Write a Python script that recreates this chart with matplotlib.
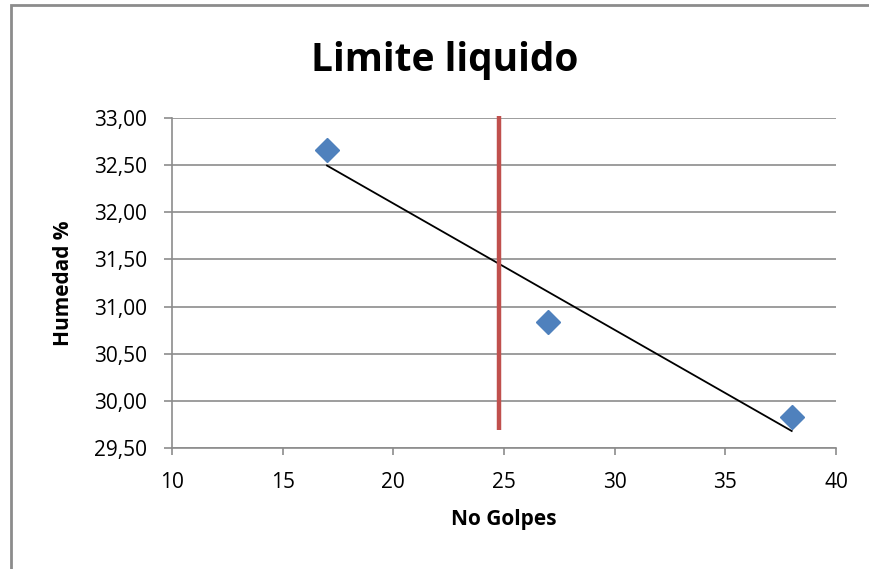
import numpy as np
import matplotlib.pyplot as plt
from matplotlib.patches import Rectangle
from matplotlib.ticker import FuncFormatter

plt.rcParams['font.family'] = ['Open Sans', 'DejaVu Sans']

golpes = [17, 27, 38]
humedad = [32.66, 30.84, 29.83]
limite_x = 24.78
limite_y = [29.69, 33.02]

x_ticks = [10, 15, 20, 25, 30, 35, 40]
y_ticks = [29.5, 30.0, 30.5, 31.0, 31.5, 32.0, 32.5, 33.0]

fig = plt.figure(figsize=(8.69, 5.69), dpi=100)
ax = fig.add_axes([0.198, 0.2127, 0.764, 0.58])

# chart border (only left and top edges fall inside the image)
fig.patches.append(Rectangle((10.5 / 869, -0.05), 1.05, 1.0413, transform=fig.transFigure,
                             fill=False, edgecolor='#8c8c8c', linewidth=2))

for y in y_ticks:
    ax.axhline(y, color='#8c8c8c', linewidth=1.2, zorder=0)

# trendline (linear fit)
m, b = np.polyfit(golpes, humedad, 1)
tx = np.array([min(golpes), max(golpes)])
ax.plot(tx, m * tx + b, color='black', linewidth=1.3, zorder=2)

ax.plot([limite_x, limite_x], limite_y, color='#C0504D', linewidth=3.2, zorder=3,
        solid_capstyle='butt', clip_on=False)

ax.plot(golpes, humedad, linestyle='none', marker='D', markersize=12,
        color='#4F81BD', markeredgecolor='#4F81BD', zorder=4)

ax.set_xlim(10, 40)
ax.set_ylim(29.5, 33.0)
ax.set_xticks(x_ticks)
ax.set_yticks(y_ticks)
ax.yaxis.set_major_formatter(FuncFormatter(lambda v, p: f'{v:.2f}'.replace('.', ',')))

for side in ['top', 'right']:
    ax.spines[side].set_visible(False)
for side in ['left', 'bottom']:
    ax.spines[side].set_color('#8c8c8c')
    ax.spines[side].set_linewidth(1.2)
ax.tick_params(axis='both', colors='#8c8c8c', width=1.2, length=5, labelsize=15,
               labelcolor='black')
ax.tick_params(axis='y', pad=12, length=6)
ax.tick_params(axis='x', pad=12)

ax.set_xlabel('No Golpes', fontsize=15, fontweight='bold', labelpad=12)
ax.set_ylabel('Humedad %', fontsize=15, fontweight='bold', labelpad=14)
fig.text(0.512, 0.893, 'Limite liquido', fontsize=28, fontweight='bold',
         ha='center', va='center')

fig.savefig('out.png', dpi=100)
